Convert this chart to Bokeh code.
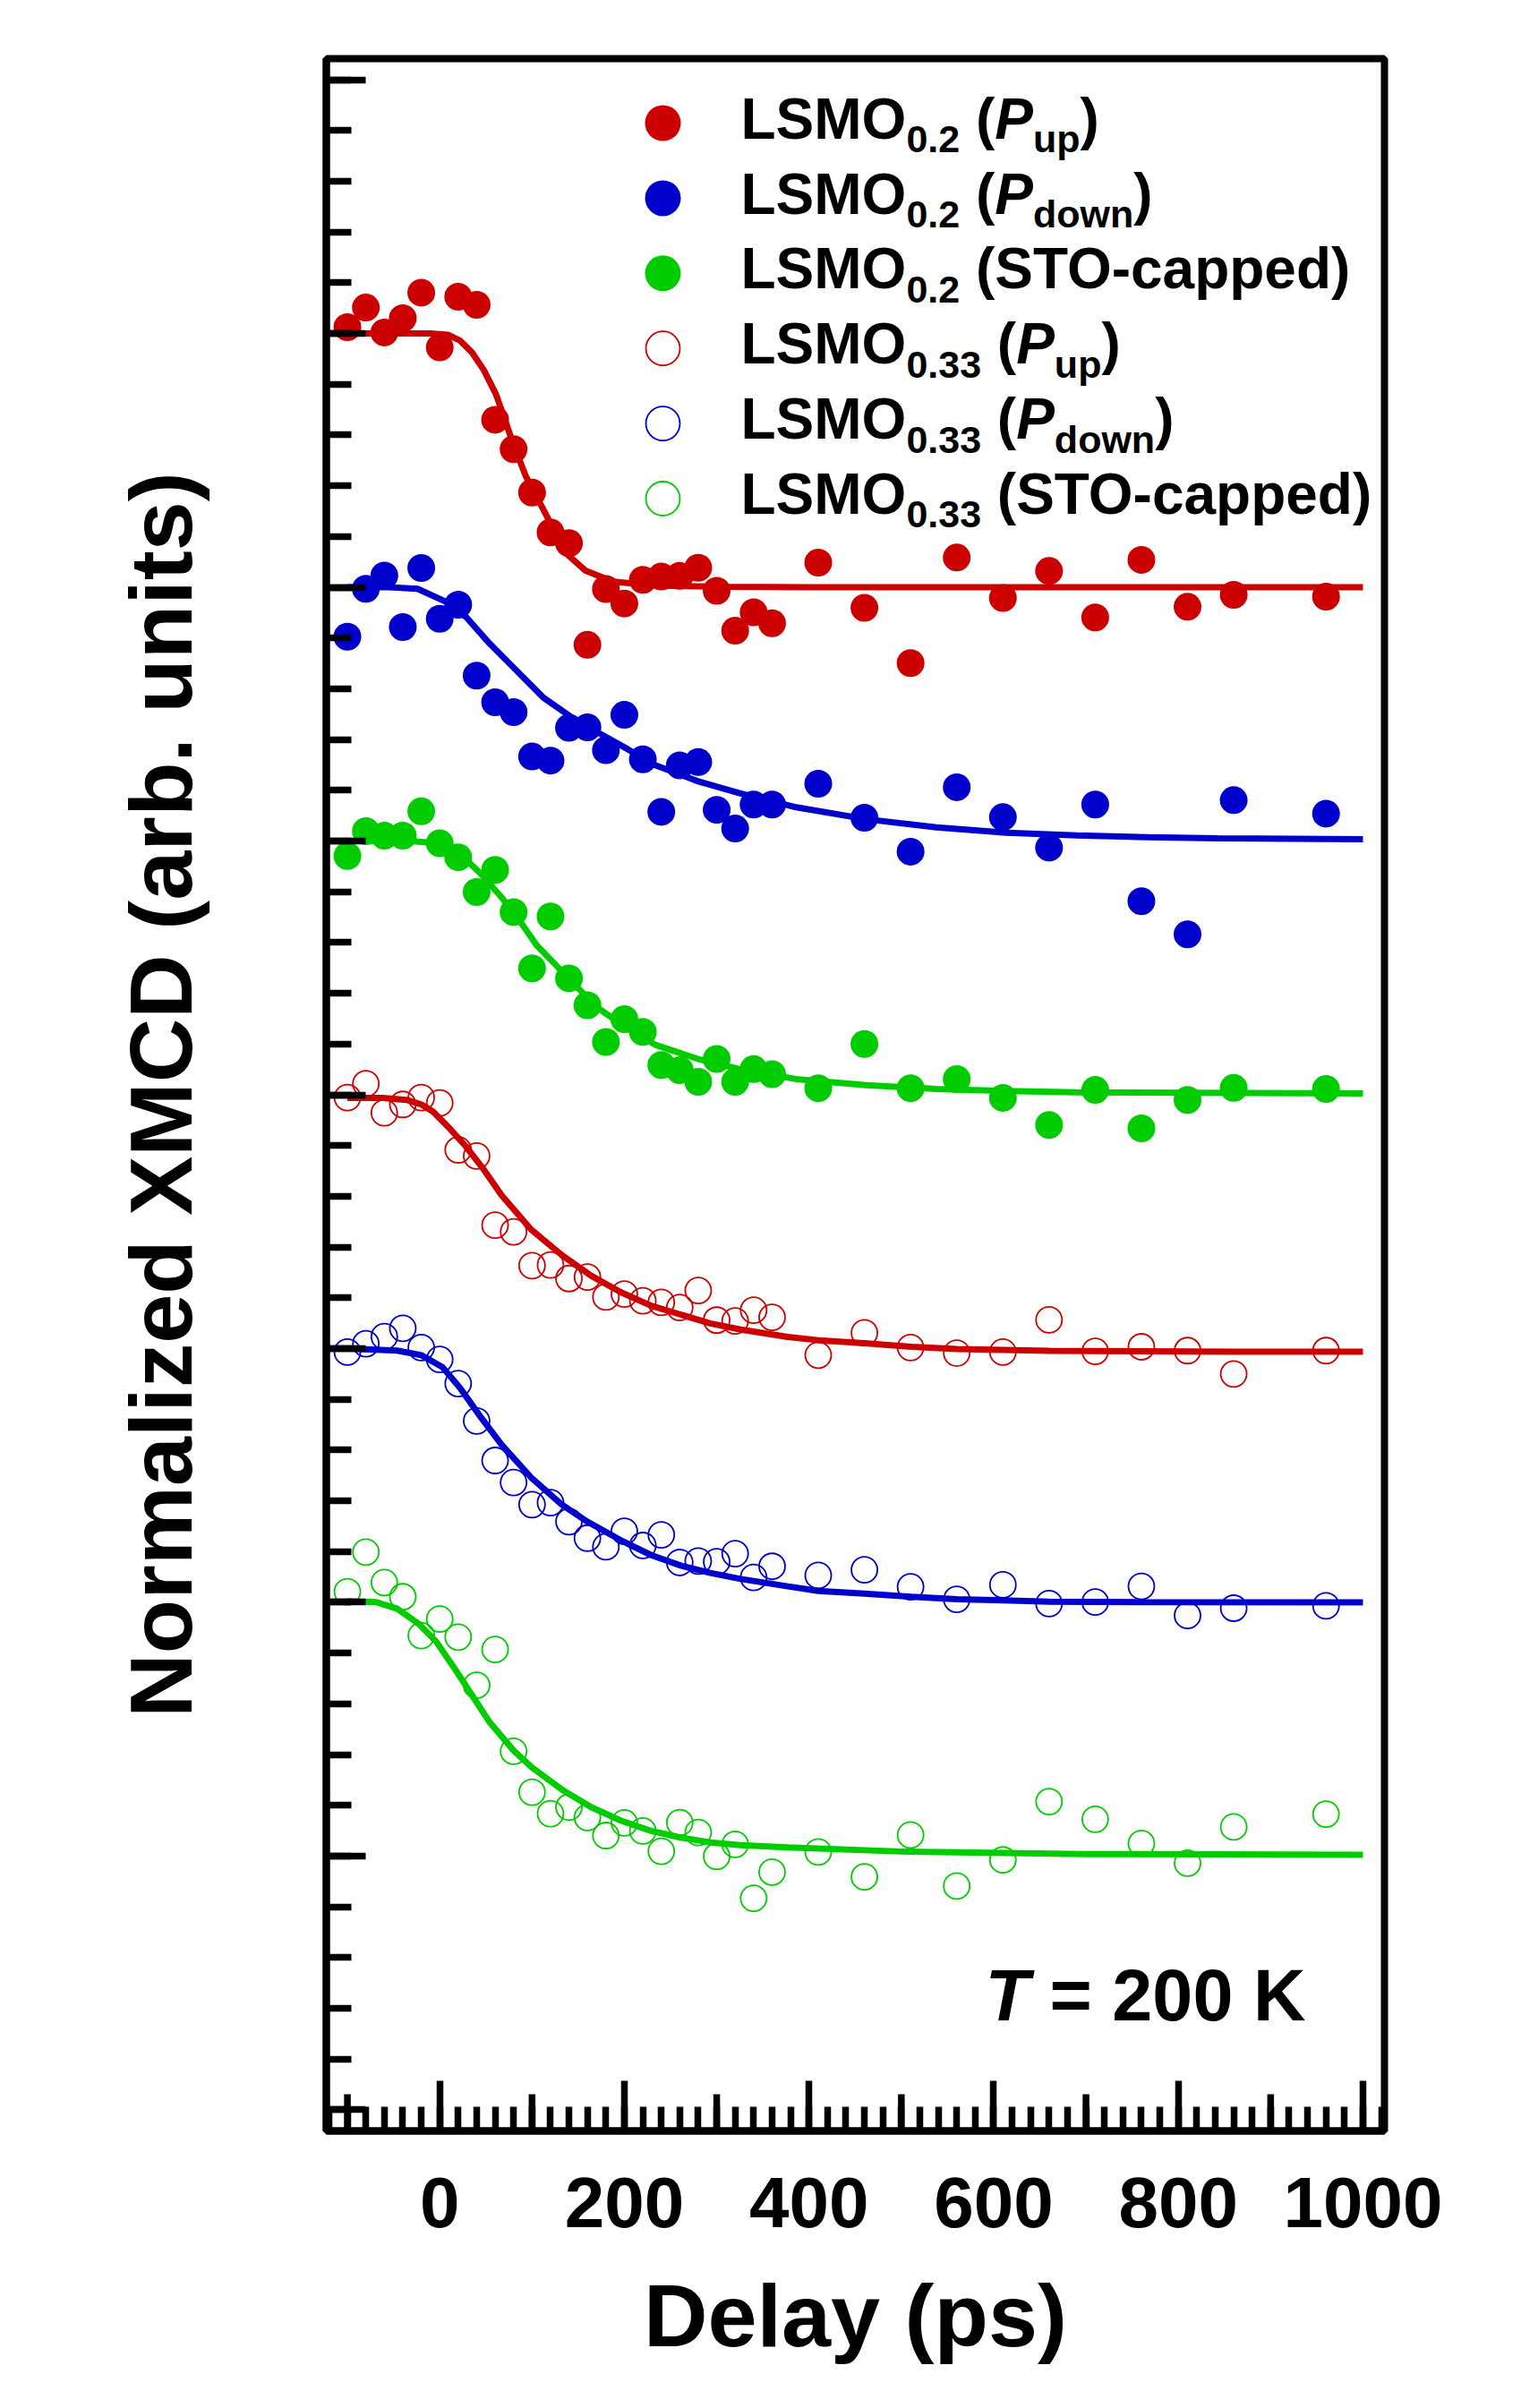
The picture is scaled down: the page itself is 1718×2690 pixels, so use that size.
from bokeh.plotting import figure
from bokeh.models import Range1d, FixedTicker
from bokeh.core.properties import value
from bokeh.embed import file_html
from bokeh.resources import INLINE

# ---------------- data ----------------
delay = [-100, -80, -60, -40, -20, 0, 20, 40, 60, 80, 100, 120, 140, 160, 180, 200,
         220, 240, 260, 280, 300, 320, 340, 360, 410, 460, 510, 560, 610, 660, 710,
         760, 810, 860, 960]

lsmo02_up = [6.025, 6.102, 6.004, 6.060, 6.161, 5.945, 6.145, 6.113, 5.660, 5.544, 5.373,
             5.216, 5.174, 4.773, 4.993, 4.936, 5.029, 5.042, 5.045, 5.077, 4.986, 4.829,
             4.901, 4.858, 5.097, 4.919, 4.701, 5.117, 4.958, 5.064, 4.881, 5.108, 4.923,
             4.970, 4.963]
lsmo02_down = [4.805, 4.994, 5.046, 4.843, 5.076, 4.876, 4.931, 4.652, 4.547, 4.508, 4.333,
               4.317, 4.446, 4.448, 4.358, 4.497, 4.322, 4.115, 4.298, 4.311, 4.123, 4.049,
               4.144, 4.144, 4.226, 4.092, 3.958, 4.212, 4.094, 3.974, 4.144, 3.763, 3.632,
               4.161, 4.108]
lsmo02_sto = [3.941, 4.039, 4.021, 4.021, 4.117, 3.991, 3.936, 3.799, 3.886, 3.720, 3.498,
              3.703, 3.459, 3.353, 3.208, 3.298, 3.248, 3.117, 3.097, 3.051, 3.141, 3.051,
              3.101, 3.081, 3.026, 3.200, 3.026, 3.062, 2.988, 2.881, 3.019, 2.868, 2.980,
              3.027, 3.023]
lsmo033_up = [2.989, 3.044, 2.929, 2.962, 2.989, 2.968, 2.783, 2.759, 2.486, 2.460, 2.327,
              2.329, 2.276, 2.282, 2.203, 2.215, 2.188, 2.182, 2.162, 2.229, 2.112, 2.109,
              2.151, 2.123, 1.974, 2.062, 2.004, 1.982, 1.986, 2.113, 1.989, 2.007, 1.992,
              1.900, 1.992]
lsmo033_down = [1.986, 2.019, 2.047, 2.080, 2.004, 1.957, 1.862, 1.715, 1.559, 1.472, 1.385,
                1.393, 1.318, 1.253, 1.219, 1.280, 1.224, 1.266, 1.157, 1.163, 1.160, 1.192,
                1.098, 1.142, 1.106, 1.128, 1.061, 1.012, 1.069, 0.995, 1.001, 1.063, 0.948,
                0.977, 0.986]
lsmo033_sto = [1.042, 1.198, 1.078, 1.022, 0.869, 0.934, 0.863, 0.673, 0.814, 0.413, 0.252,
               0.167, 0.193, 0.152, 0.081, 0.131, 0.099, 0.019, 0.132, 0.093, -0.001, 0.046,
               -0.166, -0.063, 0.016, -0.082, 0.083, -0.118, -0.015, 0.215, 0.145, 0.050,
               -0.028, 0.115, 0.165]

# fitted curves
fit02_up_x = [-100, -50, -10, 9, 22, 35, 48, 61, 70, 80, 93, 116, 135, 158, 188, 234, 310,
              400, 600, 800, 1000]
fit02_up_y = [6.0, 6.0, 6.0, 5.995, 5.972, 5.925, 5.854, 5.76, 5.666, 5.56, 5.44, 5.28, 5.14,
              5.065, 5.022, 5.006, 5.002, 5.0, 5.0, 5.0, 5.0]
fit02_down_x = [-100, -55, -24, 6, 29, 52, 82, 112, 143, 173, 204, 234, 280, 325, 386, 462,
                538, 614, 690, 767, 843, 1000]
fit02_down_y = [5.0, 5.0, 4.994, 4.944, 4.881, 4.786, 4.676, 4.566, 4.487, 4.424, 4.361,
                4.298, 4.235, 4.188, 4.133, 4.086, 4.054, 4.033, 4.022, 4.015, 4.011, 4.007]
fit02_sto_x = [-100, -32, -2, 21, 44, 67, 90, 105, 128, 151, 173, 204, 234, 280, 325, 386,
               462, 538, 614, 690, 1000]
fit02_sto_y = [4.0, 4.0, 3.991, 3.952, 3.873, 3.778, 3.668, 3.589, 3.503, 3.416, 3.338,
               3.259, 3.196, 3.141, 3.101, 3.062, 3.038, 3.023, 3.015, 3.010, 3.005]
fit033_up_x = [-100, -62, -36, -20, -7, 9, 28, 48, 67, 99, 132, 164, 196, 229, 261, 293,
               326, 377, 410, 460, 511, 560, 660, 860, 1000]
fit033_up_y = [2.988, 2.988, 2.980, 2.962, 2.933, 2.874, 2.798, 2.704, 2.604, 2.469, 2.369,
               2.287, 2.222, 2.169, 2.134, 2.099, 2.075, 2.046, 2.033, 2.021, 2.007, 1.998,
               1.991, 1.988, 1.988]
fit033_down_x = [-100, -46, -20, 3, 22, 45, 67, 99, 132, 158, 196, 229, 261, 293, 326, 377,
                 410, 460, 511, 560, 610, 660, 760, 1000]
fit033_down_y = [2.0, 1.992, 1.974, 1.927, 1.845, 1.727, 1.621, 1.492, 1.386, 1.322, 1.245,
                 1.186, 1.145, 1.116, 1.092, 1.063, 1.045, 1.034, 1.022, 1.012, 1.008, 1.003,
                 1.001, 1.0]
fit033_sto_x = [-100, -69, -46, -23, -4, 16, 35, 54, 80, 99, 132, 164, 196, 229, 261, 293,
                326, 377, 500, 700, 1000]
fit033_sto_y = [1.004, 1.001, 0.975, 0.916, 0.846, 0.740, 0.634, 0.528, 0.416, 0.352, 0.263,
                0.193, 0.140, 0.099, 0.073, 0.054, 0.043, 0.034, 0.018, 0.008, 0.005]

x_tick_labels = [0, 200, 400, 600, 800, 1000]
x_mid_ticks = [-100, 100, 300, 500, 700, 900]
y_major_ticks = [-1, 0, 1, 2, 3, 4, 5, 6, 7]

RED, BLUE, GREEN = "#CC0000", "#0000CC", "#00CC00"
series = [
    (lsmo02_up, fit02_up_x, fit02_up_y, RED, True),
    (lsmo02_down, fit02_down_x, fit02_down_y, BLUE, True),
    (lsmo02_sto, fit02_sto_x, fit02_sto_y, GREEN, True),
    (lsmo033_up, fit033_up_x, fit033_up_y, RED, False),
    (lsmo033_down, fit033_down_x, fit033_down_y, BLUE, False),
    (lsmo033_sto, fit033_sto_x, fit033_sto_y, GREEN, False),
]
legend_rows = [
    ("0.2", "up", RED, True),
    ("0.2", "down", BLUE, True),
    ("0.2", None, GREEN, True),
    ("0.33", "up", RED, False),
    ("0.33", "down", BLUE, False),
    ("0.33", None, GREEN, False),
]

# ---------------- layout ----------------
FONT = "Liberation Sans"
W, H = 1718, 2690
FL, FR, FT, FB = 364, 1546, 65, 2380
X0, X1 = -122.85, 1023.3
Y0, Y1 = -1.083, 7.083
BASE_FIX = 0.42   # em: shift of the drawn baseline to compensate
TITLE_SIZE = "99px"


def dx(px):
    return X0 + (px - FL) / (FR - FL) * (X1 - X0)


def dy(py):
    return Y1 - (py - FT) / (FB - FT) * (Y1 - Y0)


p = figure(width=W, height=H, x_range=Range1d(X0, X1), y_range=Range1d(Y0, Y1),
           output_backend="svg", toolbar_location=None,
           min_border_left=FL, min_border_right=W - FR,
           min_border_top=FT, min_border_bottom=H - FB)
p.background_fill_color = "white"
p.border_fill_color = "white"
p.outline_line_color = "black"
p.outline_line_width = 8
p.xgrid.visible = False
p.ygrid.visible = False

# x axis
xa = p.xaxis[0]
xa.ticker = FixedTicker(ticks=x_tick_labels, minor_ticks=list(range(-120, 1021, 20)))
xa.axis_line_width = 8
xa.major_tick_in = 56
xa.major_tick_out = 0
xa.minor_tick_in = 27
xa.minor_tick_out = 0
xa.major_tick_line_width = 7.5
xa.minor_tick_line_width = 7.5
xa.major_label_text_font = FONT
xa.major_label_text_font_style = "bold"
xa.major_label_text_font_size = "80px"
xa.major_label_text_color = "black"
xa.major_label_standoff = 52
xa.axis_label = "Delay (ps)"
xa.axis_label_text_font = FONT
xa.axis_label_text_font_style = "bold"
xa.axis_label_text_font_size = TITLE_SIZE
xa.axis_label_text_color = "black"
xa.axis_label_standoff = 40

# y axis (ticks only, tick labels not drawn)
ya = p.yaxis[0]
ya.ticker = FixedTicker(ticks=y_major_ticks,
                        minor_ticks=[round(-1 + 0.2 * i, 1) for i in range(41)])
ya.axis_line_width = 8
ya.major_tick_in = 44
ya.major_tick_out = 0
ya.minor_tick_in = 28
ya.minor_tick_out = 0
ya.major_tick_line_width = 7.5
ya.minor_tick_line_width = 7.5
ya.major_label_text_color = None
ya.major_label_text_font_size = "10px"
ya.major_label_standoff = 0
ya.axis_label = "Normalized XMCD (arb. units)"
ya.axis_label_text_font = FONT
ya.axis_label_text_font_style = "bold"
ya.axis_label_text_font_size = TITLE_SIZE
ya.axis_label_text_color = "black"
ya.axis_label_standoff = 130

# medium x ticks (every 100 ps, between the labelled ones)
mid_len = 41 * (Y1 - Y0) / (FB - FT)
p.segment(x0=x_mid_ticks, x1=x_mid_ticks, y0=[Y0] * len(x_mid_ticks),
          y1=[Y0 + mid_len] * len(x_mid_ticks), line_color="black", line_width=7.5)

# data markers then fit lines
for ys, fx, fy, col, filled in series:
    if filled:
        p.scatter(delay, ys, size=31, marker="circle", fill_color=col, line_color=None)
    else:
        p.scatter(delay, ys, size=29, marker="circle", fill_color=None, line_color=col,
                  line_width=1.8)
for ys, fx, fy, col, filled in series:
    p.line(fx, fy, line_color=col, line_width=7)

# ---------------- texts (text glyphs, grouped by style) ----------------
AW = {'L': 611, 'S': 667, 'M': 833, 'O': 778, ' ': 278, '(': 333, ')': 333, 'P': 667,
      'u': 611, 'p': 611, 'd': 611, 'o': 611, 'w': 778, 'n': 611, 'T': 611, '-': 333,
      'c': 556, 'a': 556, 'e': 556, '0': 556, '2': 556, '3': 556, '.': 278, '=': 584,
      'K': 722}


def tw(s, size):
    return sum(AW[c] for c in s) / 1000.0 * size


groups = {}


def queue_text(px, py, txt, size, style="bold"):
    # px, py: wanted position of the alphabetic baseline (figure pixels)
    py = py - BASE_FIX * size
    key = (size, style)
    g = groups.setdefault(key, {"x": [], "y": [], "t": []})
    g["x"].append(dx(px))
    g["y"].append(dy(py))
    g["t"].append(txt)


MAIN, SUB = 64, 43
SUB_DROP = 14
MX, TX = 740, 827
ROW0_MARK, ROW0_BASE, ROW_STEP = 137, 159, 83.9

for i, (sub, psub, col, filled) in enumerate(legend_rows):
    my = ROW0_MARK + i * ROW_STEP
    if filled:
        p.scatter([dx(MX)], [dy(my)], size=40, marker="circle", fill_color=col,
                  line_color=None)
    else:
        p.scatter([dx(MX)], [dy(my)], size=38, marker="circle", fill_color=None,
                  line_color=col, line_width=1.8)
    base = ROW0_BASE + i * ROW_STEP
    if psub is None:
        parts = [("LSMO", MAIN, "bold"), (sub, SUB, "bold"), (" ", MAIN, None),
                 ("(STO-capped)", MAIN, "bold")]
    else:
        parts = [("LSMO", MAIN, "bold"), (sub, SUB, "bold"), (" ", MAIN, None),
                 ("(", MAIN, "bold"), ("P", MAIN, "bold italic"), (psub, SUB, "bold"),
                 (")", MAIN, "bold")]
    x = TX
    for txt, size, style in parts:
        if style is not None:
            py = base + (SUB_DROP if size == SUB else 0)
            queue_text(x, py, txt, size, style=style)
        x += tw(txt, size)

TSIZE = 81
tx0, tbase = 1100, 2263
queue_text(tx0, tbase, "T", TSIZE, style="bold italic")
queue_text(tx0 + tw("T ", TSIZE), tbase, "= 200 K", TSIZE, style="bold")

for (size, style), g in groups.items():
    p.text(x=g["x"], y=g["y"], text=g["t"], text_font=value(FONT),
           text_font_size=value(f"{size}px"), text_font_style=value(style),
           text_color="black", text_align=value("left"),
           text_baseline=value("alphabetic"))

open("out.html", "w").write(file_html(p, INLINE))
